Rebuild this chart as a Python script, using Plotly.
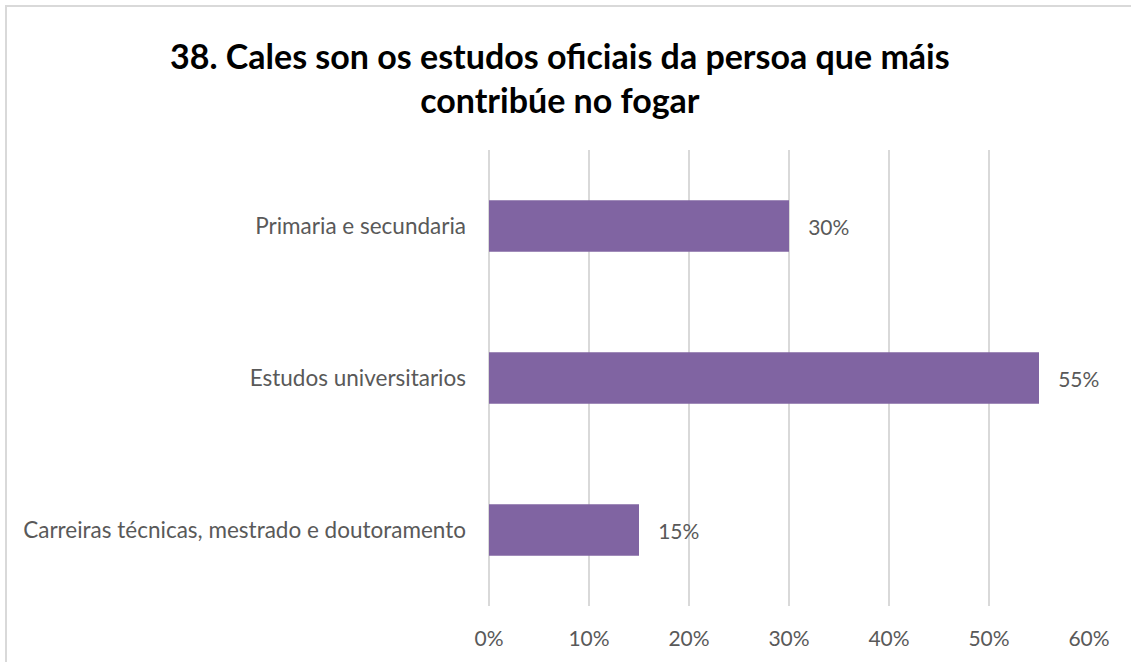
"""Horizontal bar chart: official studies of the main household contributor."""

import plotly.graph_objects as go

categories = [
    "Carreiras técnicas, mestrado e doutoramento",
    "Estudos universitarios",
    "Primaria e secundaria",
]
shares = [15, 55, 30]
tick_values = [0, 10, 20, 30, 40, 50, 60]
tick_labels = ["0%", "10%", "20%", "30%", "40%", "50%", "60%"]

TITLE = "38. Cales son os estudos oficiais da persoa que máis<br>contribúe no fogar"
BAR_COLOR = "#8064A2"
GRID = "#D9D9D9"
TEXT = "#595959"
FONT = "Lato"

fig = go.Figure(
    go.Bar(
        x=shares,
        y=categories,
        orientation="h",
        marker_color=BAR_COLOR,
        marker_line_width=0,
        text=[f"   {v}%" for v in shares],
        textposition="outside",
        textfont=dict(family=FONT, size=21, color=TEXT),
        cliponaxis=False,
        hoverinfo="skip",
    )
)

fig.update_layout(
    width=1131,
    height=662,
    margin=dict(l=489, r=42, t=150, b=56),
    paper_bgcolor="white",
    plot_bgcolor="white",
    bargap=0.66,
    showlegend=False,
    font=dict(family=FONT, size=21, color=TEXT),
)

fig.update_xaxes(
    range=[0, 60],
    tickvals=tick_values,
    ticktext=tick_labels,
    showgrid=True,
    gridcolor=GRID,
    gridwidth=1.5,
    zeroline=True,
    zerolinecolor=GRID,
    zerolinewidth=1.5,
    showline=False,
    ticks="",
    ticklabelstandoff=18,
    tickfont=dict(family=FONT, size=21, color=TEXT),
)
fig.update_yaxes(
    showgrid=False,
    zeroline=False,
    showline=False,
    ticks="",
    ticklabelstandoff=22,
    tickfont=dict(family=FONT, size=22.5, color=TEXT),
)

# chart-area border: only the left and top edges fall inside the picture
fig.add_shape(
    type="rect", xref="paper", yref="paper",
    x0=-0.805, x1=1.3, y0=-0.3, y1=1.3158,
    line=dict(color=GRID, width=2), fillcolor="rgba(0,0,0,0)", layer="below",
)

fig.add_annotation(
    text=TITLE,
    xref="paper", yref="paper",
    x=0.118, y=1.16,
    xanchor="center", yanchor="middle",
    showarrow=False,
    align="center",
    font=dict(family=FONT, size=34, color="#000000", weight="bold"),
)

fig.write_html(
    "out.html",
    config={"displayModeBar": False},
    post_script="document.body.style.margin = '0'; document.body.style.overflow = 'hidden';",
)
